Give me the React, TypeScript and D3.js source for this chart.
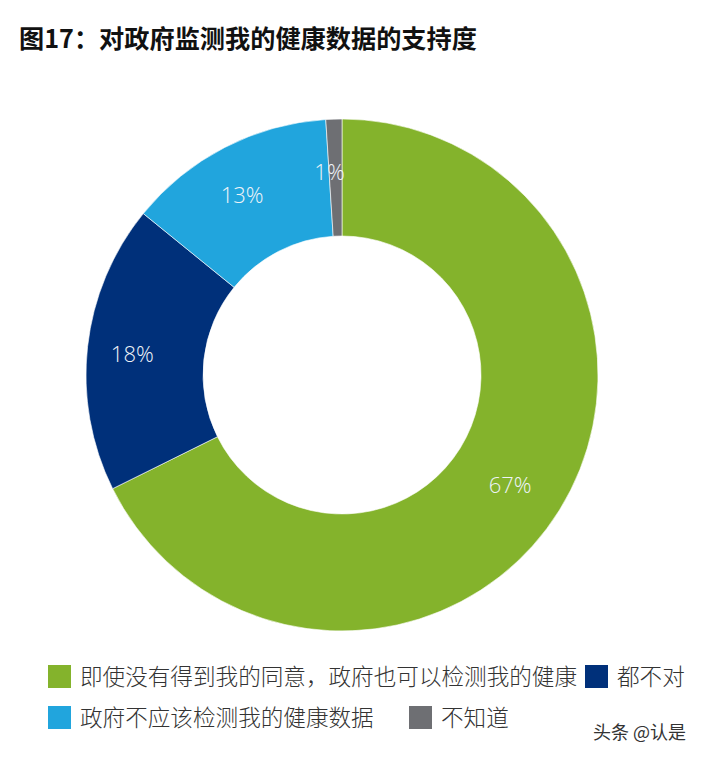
import React, { useEffect, useRef } from 'react';
import * as d3 from 'd3';

const categories = [
  '即使没有得到我的同意，政府也可以检测我的健康',
  '都不对',
  '政府不应该检测我的健康数据',
  '不知道',
];
const values = [67, 18, 13, 1];
const labels = ['67%', '18%', '13%', '1%'];
const colors = ['#84b32c', '#00307a', '#21a5dd', '#6e6f73'];

const title = '图17：对政府监测我的健康数据的支持度';
const watermark = '头条 @认是';

export default function App() {
  const svgRef = useRef<SVGSVGElement>(null);

  useEffect(() => {
    if (!svgRef.current) return;
    document.body.style.margin = '0';

    const svg = d3.select(svgRef.current);
    svg.selectAll('*').remove();

    const width = 701;
    const height = 757;
    svg.attr('width', width).attr('height', height);

    svg.append('rect').attr('width', width).attr('height', height).attr('fill', '#ffffff');

    // 标题
    svg.append('text')
      .attr('x', 19)
      .attr('y', 48)
      .attr('font-family', '"Noto Sans CJK SC", sans-serif')
      .attr('font-size', 25.2)
      .attr('font-weight', 700)
      .attr('fill', '#111')
      .text(title);

    const cx = 342;
    const cy = 375;
    const outer = 256;
    const inner = 139;

    const pie = d3.pie<number>().sort(null).value(d => d);
    const arcs = pie(values);

    const arc = d3.arc<d3.PieArcDatum<number>>()
      .innerRadius(inner)
      .outerRadius(outer);

    const labelArc = d3.arc<d3.PieArcDatum<number>>()
      .innerRadius(205)
      .outerRadius(205);

    const g = svg.append('g').attr('transform', `translate(${cx},${cy})`);

    g.selectAll('path')
      .data(arcs)
      .enter()
      .append('path')
      .attr('d', arc)
      .attr('fill', (_d, i) => colors[i])
      .attr('stroke', '#ffffff')
      .attr('stroke-width', 0.6);

    g.selectAll('text.pct')
      .data(arcs)
      .enter()
      .append('text')
      .attr('class', 'pct')
      .attr('transform', d => {
        const [x, y] = labelArc.centroid(d);
        return `translate(${x - 6},${y + 1})`;
      })
      .attr('text-anchor', 'middle')
      .attr('dominant-baseline', 'central')
      .attr('font-family', '"Open Sans", sans-serif')
      .attr('font-weight', 300)
      .attr('font-size', 22)
      .attr('fill', '#eef3f8')
      .text((_d, i) => labels[i]);

    // 图例
    const legendPos = [
      { x: 48, y: 665 },
      { x: 585, y: 665 },
      { x: 48, y: 706 },
      { x: 409, y: 706 },
    ];
    const legend = svg.append('g');
    const item = legend.selectAll('g')
      .data(categories)
      .enter()
      .append('g')
      .attr('transform', (_d, i) => `translate(${legendPos[i].x},${legendPos[i].y})`);

    item.append('rect')
      .attr('width', 23)
      .attr('height', 23)
      .attr('fill', (_d, i) => colors[i]);

    item.append('text')
      .attr('x', 32)
      .attr('y', 19.5)
      .attr('font-family', '"Noto Sans CJK SC", sans-serif')
      .attr('font-size', 22.6)
      .attr('font-weight', 300)
      .attr('fill', '#333')
      .text(d => d);

    svg.append('text')
      .attr('x', 686)
      .attr('y', 739)
      .attr('text-anchor', 'end')
      .attr('font-family', '"Noto Sans CJK SC", sans-serif')
      .attr('font-size', 18)
      .attr('fill', '#333')
      .text(watermark);
  }, []);

  return (
    <div>
      <svg ref={svgRef} style={{ display: 'block' }}></svg>
    </div>
  );
}
